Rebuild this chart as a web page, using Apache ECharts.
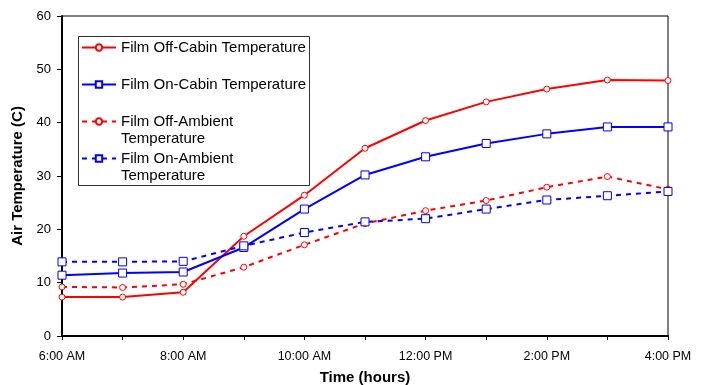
<!DOCTYPE html>
<html>
<head>
<meta charset="utf-8">
<script src="https://cdn.jsdelivr.net/npm/echarts@6/dist/echarts.min.js"></script>
<style>
  html, body { margin: 0; padding: 0; background: #fff; }
  #chart { width: 706px; height: 385px; }
</style>
</head>
<body>
<div id="chart"></div>
<script>
// hourly readings, 6 AM .. 4 PM
var hours = ['6:00 AM', '7:00 AM', '8:00 AM', '9:00 AM', '10:00 AM', '11:00 AM',
             '12:00 PM', '1:00 PM', '2:00 PM', '3:00 PM', '4:00 PM'];
var offCabin   = [7.3, 7.3, 8.2, 18.7, 26.4, 35.2, 40.4, 43.9, 46.3, 48.0, 47.9];
var onCabin    = [11.4, 11.8, 12.0, 16.6, 23.8, 30.2, 33.6, 36.1, 37.9, 39.2, 39.2];
var offAmbient = [9.2, 9.1, 9.7, 12.9, 17.1, 21.1, 23.5, 25.4, 27.9, 29.9, 27.5];
var onAmbient  = [13.9, 13.9, 14.0, 16.9, 19.4, 21.4, 22.0, 23.8, 25.5, 26.3, 27.1];
var names = ['Film Off-Cabin Temperature', 'Film On-Cabin Temperature',
             'Film Off-Ambient\nTemperature', 'Film On-Ambient\nTemperature'];
var yTicks = [0, 10, 20, 30, 40, 50, 60];

var RED = '#ff0000', BLUE = '#0000ff';
var FONT = 'Liberation Sans';

var chart = echarts.init(document.getElementById('chart'));

function line(name, data, color, dashed, symbol, size) {
  return {
    name: name,
    type: 'line',
    data: data,
    symbol: symbol,
    symbolSize: size,
    showSymbol: true,
    color: color,
    itemStyle: { color: '#fff', borderColor: color, borderWidth: 1 },
    lineStyle: { color: color, width: 2, type: dashed ? [5, 5] : 'solid' },
    z: 2
  };
}

chart.setOption({
  animation: false,
  textStyle: { fontFamily: FONT },
  grid: {
    left: 62, right: 38, top: 16, bottom: 49,
    outerBoundsMode: 'none', containLabel: false,
    show: true, borderColor: '#000', borderWidth: 1
  },
  graphic: [{
    type: 'rect', z: 3,
    shape: { x: 78.5, y: 36.5, width: 231, height: 149 },
    style: { fill: '#fff', stroke: '#333', lineWidth: 1 }
  }],
  legend: {
    orient: 'vertical',
    left: 81, top: 22,
    padding: 0,
    itemWidth: 34, itemHeight: 8, itemGap: -14,
    z: 5,
    textStyle: { fontSize: 15, fontFamily: FONT, color: '#000', lineHeight: 17 },
    // every entry is three lines tall so the icon sits on the first text line
    formatter: function (name) {
      return name.indexOf('\n') >= 0 ? ' \n' + name : ' \n' + name + '\n ';
    },
    data: names
  },
  xAxis: {
    type: 'category',
    data: hours,
    boundaryGap: false,
    name: 'Time (hours)',
    nameLocation: 'middle',
    nameGap: 34,
    nameTextStyle: { fontSize: 15, fontWeight: 'bold', color: '#000', fontFamily: FONT },
    axisLine: { lineStyle: { color: '#000', width: 2 } },
    axisTick: { interval: 0, length: 4, lineStyle: { color: '#000' } },
    axisLabel: { interval: 1, fontSize: 12.5, color: '#000', margin: 14, fontFamily: FONT },
    splitLine: { show: false }
  },
  yAxis: {
    type: 'value',
    min: yTicks[0], max: yTicks[yTicks.length - 1], interval: 10,
    name: 'Air Temperature (C)',
    nameLocation: 'middle',
    nameGap: 37,
    nameTextStyle: { fontSize: 15, fontWeight: 'bold', color: '#000', fontFamily: FONT },
    axisLine: { show: true, lineStyle: { color: '#000', width: 2 } },
    axisTick: { show: true, length: 5, lineStyle: { color: '#000' } },
    axisLabel: { fontSize: 13, color: '#000', margin: 11, fontFamily: FONT },
    splitLine: { show: false }
  },
  series: [
    line(names[0], offCabin, RED, false, 'circle', 6),
    line(names[1], onCabin, BLUE, false, 'rect', 8),
    line(names[2], offAmbient, RED, true, 'circle', 6),
    line(names[3], onAmbient, BLUE, true, 'rect', 8)
  ]
});
</script>
</body>
</html>
